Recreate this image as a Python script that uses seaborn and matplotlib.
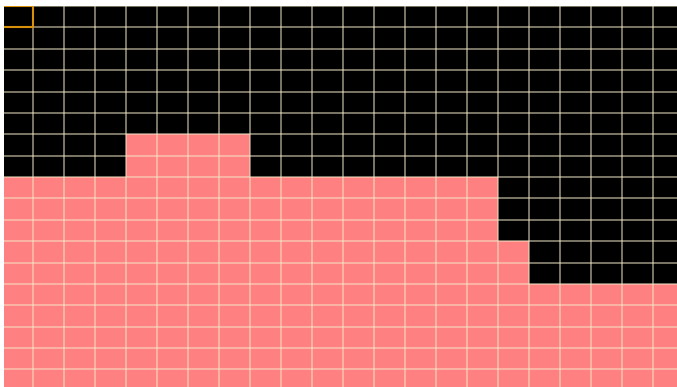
import matplotlib
matplotlib.use("Agg")
import matplotlib.pyplot as plt
import seaborn as sns
import numpy as np
import pandas as pd

# Column heights of the filled region (in grid cells), left to right
columns = list(range(22))
heights = [10, 10, 10, 10, 12, 12, 12, 12, 10, 10, 10,
           10, 10, 10, 10, 10, 7, 5, 5, 5, 5, 5]
n_rows = 18
highlight_col = 0
highlight_row = 17

df = pd.DataFrame({"col": columns, "height": heights})

sns.set_style("dark")
fig = plt.figure(figsize=(6.77, 3.87), dpi=100, facecolor="white")
# axes placed in pixel terms: left 4px, top 6px white margin
ax = fig.add_axes([4 / 677, 0, 673 / 677, 381 / 387])
ax.set_facecolor("black")

sns.barplot(data=df, x="col", y="height", color="#FF8080", width=1.0,
            saturation=1, linewidth=0, ax=ax)

# grid lines on cell boundaries
ax.set_xticks(np.arange(-0.5, len(columns) + 0.5, 1), minor=True)
ax.set_yticks(np.arange(0, n_rows + 1, 1), minor=True)
ax.grid(False, which="major")
ax.grid(True, which="minor", color="#F5E8C8", alpha=0.55, linewidth=1.3)
ax.set_axisbelow(False)

# highlighted cell (orange outline)
ax.add_patch(plt.Rectangle((highlight_col - 0.5, highlight_row), 1, 1,
                           fill=False, edgecolor="#D9900A", linewidth=1.5,
                           zorder=5))

ax.set_xlim(-0.435, 21.27)
ax.set_ylim(0.18, 18.0)
ax.set_xticks([])
ax.set_yticks([])
ax.tick_params(which="both", length=0)
ax.set_xlabel("")
ax.set_ylabel("")
for s in ax.spines.values():
    s.set_visible(False)

fig.savefig("out.png", dpi=100, facecolor="white")
